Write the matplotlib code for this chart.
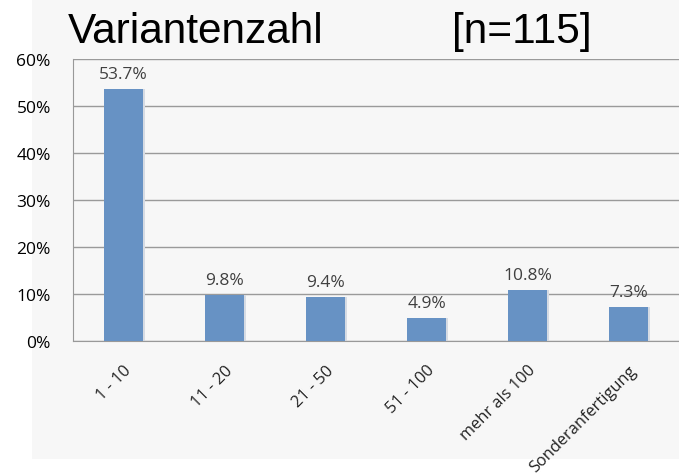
import matplotlib
matplotlib.use('Agg')
import matplotlib.pyplot as plt
from matplotlib.patches import Rectangle
import numpy as np

# data
categories = ['1 - 10', '11 - 20', '21 - 50', '51 - 100', 'mehr als 100', 'Sonderanfertigung']
values = [53.7, 9.8, 9.4, 4.9, 10.8, 7.3]
value_labels = ['53.7%', '9.8%', '9.4%', '4.9%', '10.8%', '7.3%']
y_ticks = [0, 10, 20, 30, 40, 50, 60]
y_tick_labels = ['0%', '10%', '20%', '30%', '40%', '50%', '60%']

bg = '#f7f7f7'
bar_col = '#6792c4'

fig = plt.figure(figsize=(6.79, 4.77), dpi=100)
fig.patch.set_facecolor('white')

# grey chart area background (behind the axes)
fig.add_artist(Rectangle((32 / 679, 17 / 477), 1 - 32 / 679, 1 - 17 / 477,
                         transform=fig.transFigure, facecolor=bg,
                         edgecolor='none', zorder=-5))

ax = fig.add_axes([73 / 679, 135 / 477, 1 - 73 / 679, 282 / 477])
ax.set_facecolor(bg)

x = np.arange(len(categories))
# faint shadow on the right side of each bar
ax.bar(x + 0.02, values, width=0.39, color='#d6dbe3', zorder=2)
bars = ax.bar(x, values, width=0.39, color=bar_col, zorder=3)

for b, lab in zip(bars, value_labels):
    ax.text(b.get_x() + b.get_width() / 2, b.get_height() + 1.5, lab,
            ha='center', va='bottom', fontsize=12.5, color='#404040',
            family='Open Sans')

ax.set_xlim(-0.5, len(categories) - 0.5)
ax.set_ylim(0, 60)
ax.set_yticks(y_ticks)
ax.set_yticklabels(y_tick_labels, fontsize=12.5, family='Open Sans', color='black')
ax.set_xticks(x)
ax.set_xticklabels(categories, rotation=45, ha='right', rotation_mode='anchor',
                   fontsize=11.8, family='Open Sans', color='#222222')
ax.tick_params(axis='both', length=0)
ax.tick_params(axis='y', pad=16)
ax.tick_params(axis='x', pad=15)

ax.grid(axis='y', color='#9a9a9a', linewidth=1, zorder=1)
ax.set_axisbelow(True)
for s in ['top', 'right']:
    ax.spines[s].set_visible(False)
ax.spines['left'].set_color('#999999')
ax.spines['bottom'].set_color('#999999')

fig.text(68 / 679, 1 - 43 / 477, 'Variantenzahl', fontsize=30.5,
         family='Liberation Sans', ha='left', va='baseline')
fig.text(452 / 679, 1 - 43 / 477, '[n=115]', fontsize=30.5,
         family='Liberation Sans', ha='left', va='baseline')

fig.savefig('out.png', dpi=100, facecolor='white')
